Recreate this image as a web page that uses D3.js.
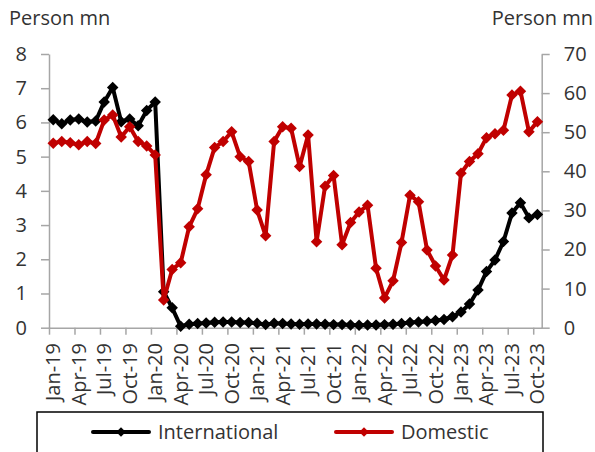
<!DOCTYPE html>
<html>
<head>
<meta charset="utf-8">
<script src="https://cdn.jsdelivr.net/npm/d3@7"></script>
<style>
  html, body { margin: 0; padding: 0; background: #fff; }
  svg { display: block; font-family: "Open Sans", "Noto Sans", sans-serif; }
</style>
</head>
<body>
<svg id="chart" width="595" height="452"></svg>
<script>
// Monthly passengers, Jan-2019 to Oct-2023 (person mn)
const months = (() => {
  const names = ["Jan","Feb","Mar","Apr","May","Jun","Jul","Aug","Sep","Oct","Nov","Dec"];
  const out = [];
  for (let y = 19; y <= 23; y++) {
    for (let m = 0; m < 12; m++) {
      if (y === 23 && m > 9) break;
      out.push(names[m] + "-" + y);
    }
  }
  return out;
})();

// International passengers (left axis)
const international = [
  6.08, 5.96, 6.07, 6.10, 6.01, 6.04, 6.60, 7.02, 6.02, 6.10, 5.90, 6.35,
  6.60, 1.05, 0.58, 0.04, 0.10, 0.12, 0.14, 0.16, 0.17, 0.17, 0.15, 0.15,
  0.13, 0.09, 0.13, 0.12, 0.11, 0.10, 0.11, 0.11, 0.10, 0.09, 0.09, 0.08,
  0.07, 0.08, 0.08, 0.09, 0.10, 0.12, 0.15, 0.17, 0.19, 0.21, 0.24, 0.32,
  0.46, 0.69, 1.10, 1.64, 1.98, 2.52, 3.35, 3.65, 3.21, 3.31
];

// Domestic passengers (right axis)
const domestic = [
  47.2, 47.6, 47.3, 46.8, 47.6, 47.1, 53.1, 54.4, 48.8, 51.4, 47.6, 46.5,
  44.2,  7.1, 14.9, 16.6, 25.8, 30.4, 39.1, 46.1, 47.6, 50.1, 43.7, 42.5,
  30.1, 23.5, 47.6, 51.4, 51.0, 41.2, 49.3, 22.0, 36.2, 38.9, 21.2, 26.9,
  29.6, 31.3, 15.2,  7.6, 12.0, 21.8, 33.9, 32.2, 19.9, 15.8, 12.2, 18.6,
  39.5, 42.5, 44.5, 48.6, 49.6, 50.5, 59.5, 60.5, 50.1, 52.7
];

const leftTicks = [0, 1, 2, 3, 4, 5, 6, 7, 8];
const rightTicks = [0, 10, 20, 30, 40, 50, 60, 70];
const labelEvery = 3;
const seriesNames = ["International", "Domestic"];
const seriesColors = ["#000000", "#c00000"];

const svg = d3.select("#chart");
const textColor = "#333333";
const axisColor = "#a6a6a6";

const plot = { left: 49, right: 541.7, top: 54, bottom: 327.7 };

const x = d3.scaleBand().domain(months).range([plot.left, plot.right]).padding(0);
const xIdx = d3.scaleLinear().domain([0, months.length]).range([plot.left, plot.right]);
const yL = d3.scaleLinear().domain([0, 8]).range([plot.bottom, plot.top]);
const yR = d3.scaleLinear().domain([0, 70]).range([plot.bottom, plot.top]);

function styleAxis(g) {
  g.select(".domain").attr("stroke", axisColor).attr("stroke-width", 1.5);
  g.selectAll(".tick line").attr("stroke", axisColor).attr("stroke-width", 1.5);
  g.selectAll(".tick text").attr("fill", textColor).style("font-size", "20px")
    .style("font-family", '"Open Sans", sans-serif');
}

// Left axis
svg.append("g")
  .attr("transform", `translate(${plot.left},0)`)
  .call(d3.axisLeft(yL).tickValues(leftTicks).tickSize(8).tickSizeOuter(0).tickPadding(14))
  .call(styleAxis);

// Right axis
svg.append("g")
  .attr("transform", `translate(${plot.right},0)`)
  .call(d3.axisRight(yR).tickValues(rightTicks).tickSize(8).tickSizeOuter(0).tickPadding(14))
  .call(styleAxis);

// Bottom axis: tick marks between categories, every third month
const tickIdx = d3.range(0, months.length, labelEvery);
svg.append("g")
  .attr("transform", `translate(0,${plot.bottom})`)
  .call(d3.axisBottom(xIdx).tickValues(tickIdx).tickSize(7).tickSizeOuter(0).tickFormat(""))
  .call(styleAxis);

// Rotated month labels centred on their category
const labelMonths = months.filter((d, i) => i % labelEvery === 0);
svg.append("g").selectAll("text")
  .data(labelMonths)
  .join("text")
  .attr("transform", d => `translate(${x(d) + x.bandwidth() / 2},343) rotate(-90)`)
  .attr("text-anchor", "end")
  .attr("dy", "0.35em")
  .attr("fill", textColor)
  .style("font-size", "20px")
  .text(d => d);

// Axis titles
svg.append("text").attr("x", 9).attr("y", 25)
  .attr("fill", textColor).style("font-size", "20px").text("Person mn");
svg.append("text").attr("x", 593).attr("y", 25).attr("text-anchor", "end")
  .attr("fill", textColor).style("font-size", "20px").text("Person mn");

// Square-proportioned diamond marker
const squareDiamond = {
  draw(ctx, size) {
    const r = Math.sqrt(size) / 2;
    ctx.moveTo(0, -r);
    ctx.lineTo(r, 0);
    ctx.lineTo(0, r);
    ctx.lineTo(-r, 0);
    ctx.closePath();
  }
};
const diamond = d3.symbol().type(squareDiamond).size(132);
const cx = (d, i) => x(months[i]) + x.bandwidth() / 2;

function drawSeries(values, yScale, color) {
  const g = svg.append("g");
  g.append("path")
    .datum(values)
    .attr("fill", "none")
    .attr("stroke", color)
    .attr("stroke-width", 4)
    .attr("stroke-linejoin", "round")
    .attr("d", d3.line().x(cx).y(d => yScale(d)));
  g.selectAll("path.m")
    .data(values)
    .join("path")
    .attr("class", "m")
    .attr("d", diamond)
    .attr("fill", color)
    .attr("transform", (d, i) => `translate(${cx(d, i)},${yScale(d)})`);
}

drawSeries(international, yL, seriesColors[0]);
drawSeries(domestic, yR, seriesColors[1]);

// Legend
const legend = svg.append("g");
legend.append("rect")
  .attr("x", 37).attr("y", 412).attr("width", 506).attr("height", 42)
  .attr("fill", "#fff").attr("stroke", "#000").attr("stroke-width", 1.5);

const legendItems = [
  { name: seriesNames[0], color: seriesColors[0], x0: 93, x1: 149, tx: 158 },
  { name: seriesNames[1], color: seriesColors[1], x0: 336, x1: 392, tx: 401 }
];
legendItems.forEach(it => {
  legend.append("line")
    .attr("x1", it.x0).attr("x2", it.x1).attr("y1", 432).attr("y2", 432)
    .attr("stroke", it.color).attr("stroke-width", 4).attr("stroke-linecap", "round");
  legend.append("path")
    .attr("d", d3.symbol().type(squareDiamond).size(90))
    .attr("fill", it.color)
    .attr("transform", `translate(${(it.x0 + it.x1) / 2},432)`);
  legend.append("text")
    .attr("x", it.tx).attr("y", 432).attr("dy", "0.35em")
    .attr("fill", textColor).style("font-size", "20px")
    .text(it.name);
});
</script>
</body>
</html>
